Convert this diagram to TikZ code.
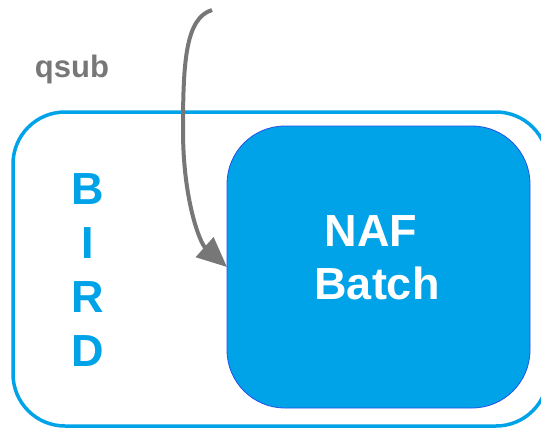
\documentclass[tikz,border=0pt]{standalone}
\usepackage{fontspec}
\setmainfont{Liberation Sans}
\usetikzlibrary{arrows.meta}

\definecolor{birdblue}{RGB}{0,163,232}
\definecolor{nafedge}{RGB}{40,80,235}
\definecolor{qgray}{RGB}{119,119,119}

\tikzset{
	birdbox/.style={draw=birdblue,line width=3.5pt,rounded corners=52pt,inner sep=0,outer sep=0,minimum width=535pt,minimum height=314pt},
	nafbox/.style={draw=nafedge,fill=birdblue,line width=0.8pt,rounded corners=58pt,inner sep=0,outer sep=0,minimum width=303pt,minimum height=282pt},
	bigtxt/.style={font=\bfseries\fontsize{45}{53}\selectfont,align=center,inner sep=0},
	qarrow/.style={draw=qgray,line width=4pt,-{Triangle[length=30pt,width=26pt]}}
}

\begin{document}
\begin{tikzpicture}[x=1pt,y=-1pt]
	\useasboundingbox (0,0) rectangle (541,429);
	\begin{scope}
	\clip (0,0) rectangle (541,429);
	\node[birdbox] (bird) at (280.5,269) {};
	\end{scope}
	\node[nafbox] (naf) at (378.5,267) {};
	\node[bigtxt,text=birdblue,font=\bfseries\fontsize{45}{54}\selectfont] (birdlbl) at (88,270) {B\\I\\R\\D};
	\node[bigtxt,text=white] (naflbl) at (377,258) {NAF\hphantom{i}\\Batch};
	\node[text=qgray,font=\bfseries\fontsize{31}{36}\selectfont,inner sep=0] (qsub) at (72,69) {qsub};
	\coordinate (qstart) at (212,10);
	\draw[qarrow] (qstart) .. controls (186,18) and (183,60) .. (183,130) .. controls (183,200) and (200,243) .. (naf.west);
\end{tikzpicture}
\end{document}
